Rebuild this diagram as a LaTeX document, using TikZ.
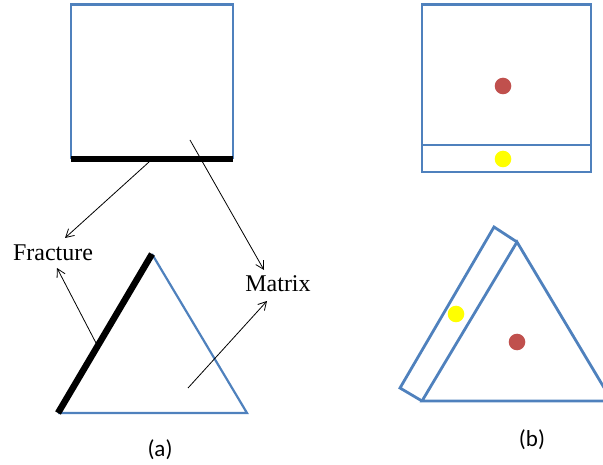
\documentclass[tikz,border=0pt]{standalone}
\usepackage{fontspec}
\setmainfont{Liberation Serif}
\newfontfamily\calib{Carlito}
\usetikzlibrary{arrows.meta}
\definecolor{obl}{HTML}{4F81BD}
\definecolor{ored}{HTML}{C0504D}
\definecolor{oyel}{HTML}{FFFF00}
\tikzset{
  blueline/.style={draw=obl, line width=2.8pt, line join=miter},
  thinblue/.style={draw=obl, line width=2.2pt},
  fracline/.style={draw=black, line width=6.5pt},
  pointer/.style={draw=black, line width=0.8pt, -{Straight Barb[length=8pt,width=9pt]}},
  word/.style={font=\fontsize{24}{27}\selectfont, inner sep=0pt},
  caplabel/.style={font=\calib\fontsize{23}{26}\selectfont, inner sep=0pt},
  dotred/.style={fill=ored, draw=none},
  dotyel/.style={fill=oyel, draw=none}
}
\begin{document}
\begin{tikzpicture}[x=1pt,y=-1pt]
\useasboundingbox (0,0) rectangle (603,465);
\clip (0,0) rectangle (603,465);
% ---- (a) ----
\draw[blueline] (71,159) -- (71,4.5) -- (233,4.5) -- (233,159);
\draw[fracline] (71,159) -- (233,159);
\node[word] (frac) at (53,253) {Fracture};
\node[word] (mat) at (278,284) {Matrix};
\coordinate (s1) at (149,162);
\coordinate (e1) at (65,238);
\coordinate (s2) at (190,140);
\coordinate (e2) at (264,270);
\coordinate (s3) at (96,343);
\coordinate (e3) at (57,268);
\coordinate (s4) at (188,388);
\coordinate (e4) at (267,301);
\coordinate (ta) at (58,413);
\coordinate (tb) at (152,254);
\coordinate (tc) at (247,413);
\draw[thinblue] (tb) -- (tc) -- (ta);
\draw[fracline] (ta) -- (tb);
\draw[pointer] (s1) -- (e1);
\draw[pointer] (s2) -- (e2);
\draw[pointer] (s3) -- (e3);
\draw[pointer] (s4) -- (e4);
\node[caplabel] (la) at (160,450) {(a)};
% ---- (b) ----
\draw[blueline] (422,4.5) rectangle (591,172);
\draw[blueline] (422,145) -- (591,145);
\fill[dotred] (503,86) circle (8.3);
\fill[dotyel] (503,159) circle (8.3);
\coordinate (ba) at (422,401);
\coordinate (bb) at (517,242);
\coordinate (bc) at (612,401);
\draw[blueline] (ba) -- (bb) -- (bc) -- cycle;
\draw[blueline] (bb) -- (494,227) -- (400,388) -- (ba);
\fill[dotyel] (456,314) circle (8.3);
\fill[dotred] (517,342) circle (8.3);
\node[caplabel] (lb) at (532,440) {(b)};
\end{tikzpicture}
\end{document}
